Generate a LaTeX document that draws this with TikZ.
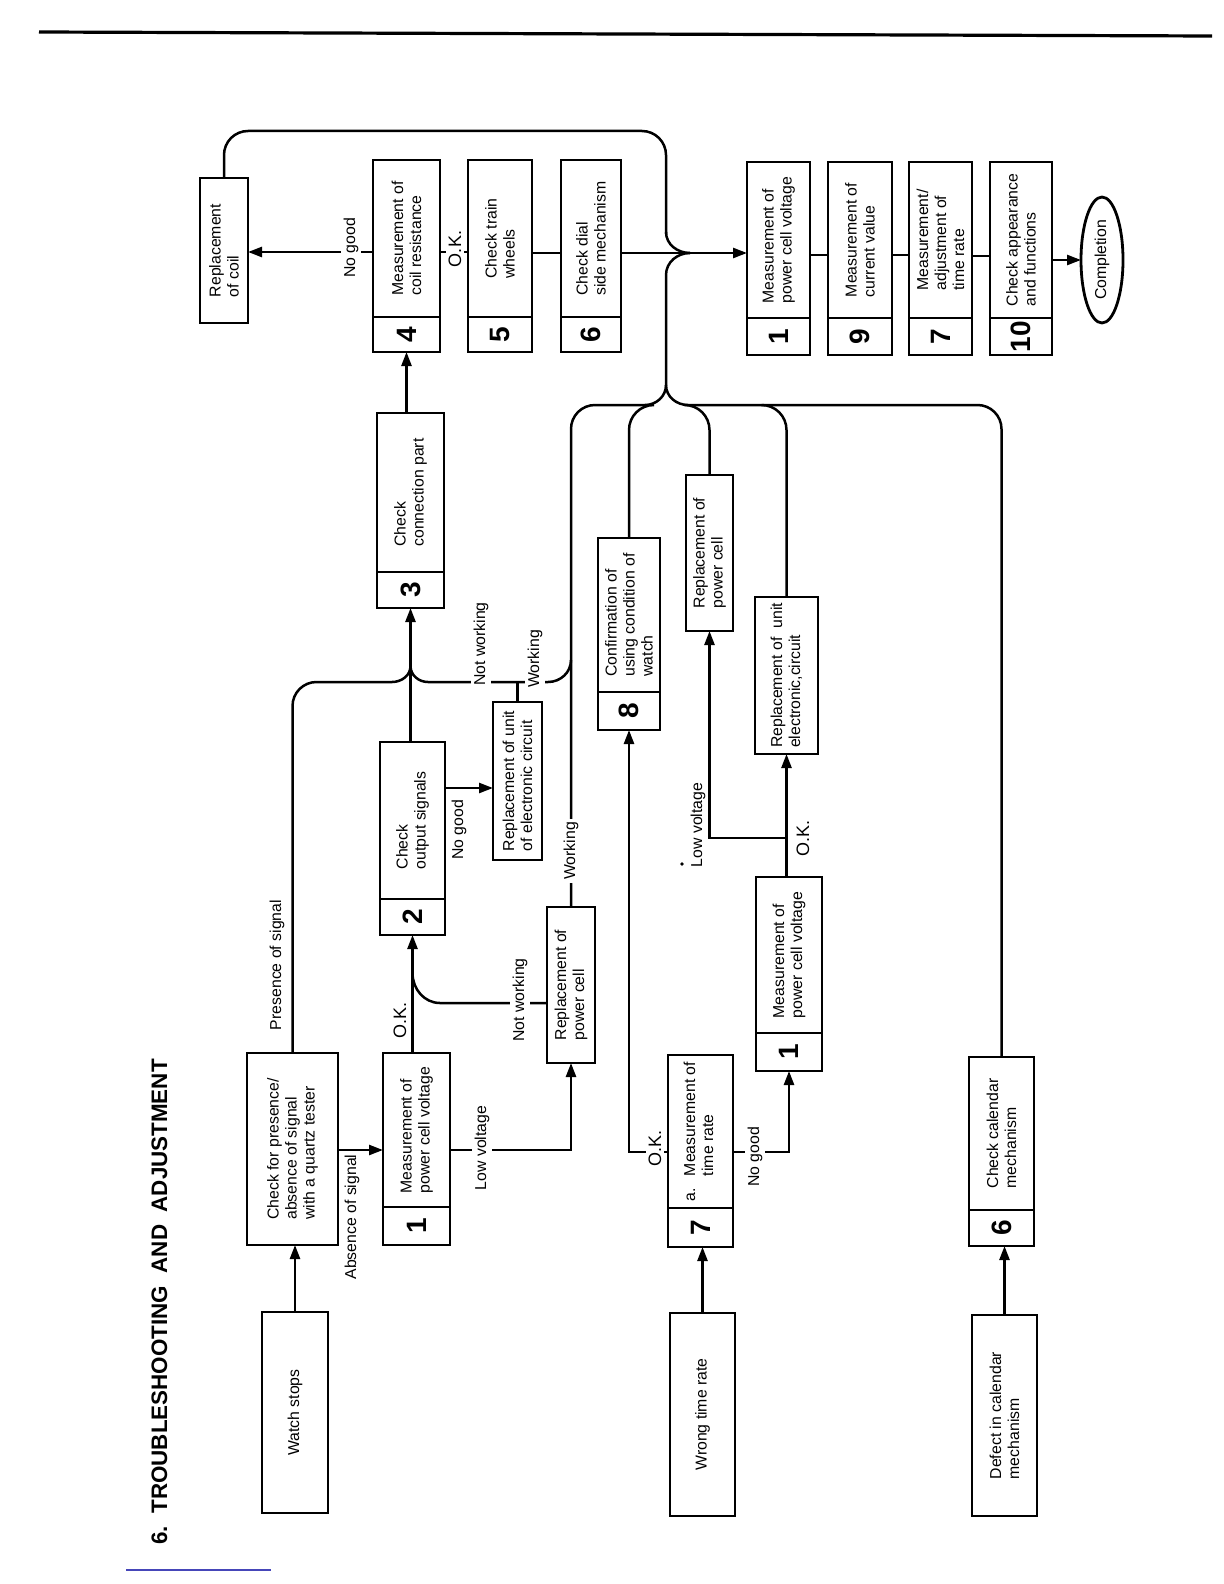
\documentclass[tikz,border=0pt]{standalone}
\usepackage{fontspec}
\setmainfont{Liberation Sans}
\usetikzlibrary{arrows.meta,calc,shapes.geometric}
\tikzset{
 bx/.style={draw, line width=1.4pt, inner sep=0pt, outer sep=0pt, rectangle},
 ln/.style={line width=1.25pt},
 arr/.style={ln, -{Triangle[length=7pt,width=5pt]}},
 txt/.style={rotate=90, align=left, font=\fontsize{7.9}{9}\selectfont, inner sep=0pt},
 numst/.style={rotate=90, font=\fontsize{14}{14}\selectfont\bfseries, inner sep=0pt},
 lab/.style={rotate=90, font=\fontsize{7.9}{9}\selectfont, inner sep=1.5pt},
 labw/.style={lab, fill=white},
 okst/.style={rotate=90, font=\fontsize{9}{10}\selectfont, inner sep=1.5pt},
 okw/.style={okst, fill=white},
}
\newcommand{\mkbox}[5]{\node[bx, minimum width={(#4-#2)*0.5}, minimum height={(#5-#3)*0.5}] (#1) at ({(#2+#4)/2},{(#3+#5)/2}) {};}
\newcommand{\plainbox}[6]{\mkbox{#1}{#2}{#3}{#4}{#5}\node[txt] (#1t) at (#1.center) {#6};}
\newcommand{\numbox}[8]{\mkbox{#1}{#2}{#3}{#4}{#5}%
 \draw[line width=1.4pt] (#2,#6) -- (#4,#6);%
 \node[numst] (#1n) at ({(#2+#4)/2},{(#6+#5)/2}) {#7};%
 \node[txt] (#1t) at ({(#2+#4)/2},{(#3+#6)/2}) {#8};}
\begin{document}
\begin{tikzpicture}[x=0.5pt,y=-0.5pt]
\useasboundingbox (0,0) rectangle (1224,1584);
% page rules
\draw[line width=1.6pt] (39,32) -- (1212,36);
\draw[line width=0.6pt, blue!45!gray] (126,1570) -- (271,1570);
% title
\node[rotate=90, anchor=base west, font=\fontsize{11.2}{12}\selectfont\bfseries, inner sep=0pt] (title) at (167,1545) {6.\ \ TROUBLESHOOTING\ \ AND\ \ ADJUSTMENT};

% boxes
\plainbox{coil}{200}{178}{248}{323}{Replacement\\of coil}
\numbox{bfour}{373}{160}{440}{352}{317}{4}{Measurement of\\coil resistance}
\numbox{bfive}{468}{160}{532}{352}{317}{5}{Check train\\wheels}
\numbox{bsix}{561}{160}{621}{352}{317}{6}{Check dial\\side mechanism}
\numbox{rone}{747}{162}{810}{355}{318}{1}{Measurement of\\power cell voltage}
\numbox{rnine}{828}{162}{892}{355}{318}{9}{Measurement of\\current value}
\numbox{rseven}{909}{162}{972}{355}{318}{7}{Measurement/\\adjustment of\\time rate}
\numbox{rten}{990}{162}{1052}{355}{318}{10}{Check appearance\\and functions}
\node[draw, ellipse, line width=1.4pt, minimum width=21pt, minimum height=63pt, inner sep=0pt, outer sep=0pt] (compl) at (1102,260) {};
\node[txt] (complt) at (compl.center) {Completion};
\numbox{bthree}{377}{413}{444}{608}{572}{3}{Check\\connection part}
\numbox{btwo}{380}{742}{445}{935}{899}{2}{Check\\output signals}
\plainbox{rul}{493}{702}{542}{860}{Replacement of unit\\of electronic circuit}
\plainbox{chk}{247}{1053}{338}{1245}{Check for presence/\\absence of signal\\with a quartz tester}
\numbox{bonea}{383}{1053}{450}{1245}{1207}{1}{Measurement of\\power cell voltage}
\plainbox{rcl}{547}{907}{595}{1063}{Replacement of\\power cell}
\numbox{beight}{598}{538}{660}{730}{692}{8}{Confirmation of\\using condition of\\watch}
\plainbox{rcu}{686}{475}{733}{631}{Replacement of\\power cell}
\plainbox{rur}{755}{597}{818}{754}{Replacement of\ \ unit\\electronic,circuit}
\numbox{boneb}{756}{877}{822}{1071}{1033}{1}{Measurement of\\power cell voltage}
\numbox{bsevena}{668}{1055}{733}{1247}{1208}{7}{a.\hspace{6pt}\begin{tabular}[t]{@{}l@{}}Measurement of\\time rate\end{tabular}}
\numbox{bcal}{969}{1057}{1034}{1246}{1210}{6}{Check calendar\\mechanism}
\plainbox{watch}{262}{1312}{328}{1513}{Watch stops}
\plainbox{wrong}{670}{1313}{735}{1516}{Wrong time rate}
\plainbox{defect}{972}{1315}{1037}{1516}{Defect in calendar\\mechanism}

% junction coordinates
\coordinate (mj) at (690,253);
\coordinate (bj) at (666,385);
\coordinate (jthree) at (bthree.south |- 0,666);
\coordinate (jone) at (rur.south |- 0,838);

% top row
\draw[arr] (bthree.north -| bfour.south) -- (bfour.south);
\draw[arr] (bfour.west |- 0,252) -- (coil.east |- 0,252);
\draw[ln] (bfour.east |- 0,252) -- (bfive.west |- 0,252);
\draw[ln] (bfive.east |- 0,253) -- (bsix.west |- 0,253);
\draw[arr] (bsix.east |- 0,253) -- (rone.west |- 0,253);
\draw[ln] (rone.east |- 0,255) -- (rnine.west |- 0,255);
\draw[ln] (rnine.east |- 0,255) -- (rseven.west |- 0,255);
\draw[ln] (rseven.east |- 0,256) -- (rten.west |- 0,256);
\draw[arr] (rten.east |- compl.west) -- (compl.west);
\draw[ln, rounded corners=12pt] (coil.north) |- (666,131) -- (666,234);
\draw[ln] (666,232) to[out=-90,in=180] (mj);
\draw[ln] (bj) -- (666,275) to[out=90,in=180] (mj);

% bus
\draw[ln, rounded corners=12pt] (rcl.north) |- (645,405);
\draw[ln] (645,405) to[out=0,in=-90] (bj);
\draw[ln, rounded corners=12pt] (bcal.north) |- (688,405);
\draw[ln] (688,405) to[out=180,in=-90] (bj);
\draw[ln] (beight.north) -- (beight.north |- 0,430) to[out=90,in=180] ++(25,-25);
\draw[ln] (rcu.north) -- (rcu.north |- 0,430) to[out=90,in=0] ++(-25,-25);
\draw[ln] (rur.north) -- (rur.north |- 0,430) to[out=90,in=0] ++(-25,-25);

% left column
\draw[arr] (watch.north) -- (watch.north |- chk.south);
\draw[arr] (chk.east |- 0,1150) -- (bonea.west |- 0,1150);
\draw[arr] (bonea.east |- 0,1150) -| (rcl.south);
\draw[arr] (bonea.north -| btwo.south) -- (btwo.south);
\draw[ln] (rcl.west |- 0,1003) -- (440,1003) to[out=180,in=-90] (btwo.south |- 0,973);
\draw[arr] (btwo.east |- 0,788) -- (rul.west |- 0,788);
\draw[arr] (btwo.north -| bthree.south) -- (bthree.south);
\draw[ln, rounded corners=12pt] (chk.north) |- (392,682);
\draw[ln] (392,682) to[out=0,in=-90] (jthree);
\draw[ln] (428,682) to[out=180,in=-90] (jthree);
\draw[ln] (428,682) -- (548,682) to[out=0,in=-90] (rcl.north |- 0,660);
\draw[ln] (rul.north) -- (rul.north |- 0,682);

% middle
\draw[arr] (wrong.north) -- (wrong.north |- bsevena.south);
\draw[arr] (defect.north) -- (defect.north |- bcal.south);
\draw[arr] (bsevena.west |- 0,1152) -| (beight.south);
\draw[arr] (bsevena.east |- 0,1152) -| (boneb.south);
\draw[arr] (boneb.north -| rur.south) -- (rur.south);
\draw[arr] (jone) -| (rcu.south);
\fill (682,864) circle (0.9pt);

% labels
\node[labw] (lone) at (351,248) {No good};
\node[okw] (ltwo) at (455,249) {O.K.};
\node[lab] (lthree) at (277,965) {Presence of signal};
\node[lab] (lfour) at (352,1217) {Absence of signal};
\node[labw] (lfive) at (482,1148) {Low voltage};
\node[okst] (lsix) at (400,1020) {O.K.};
\node[labw] (lseven) at (520,1000) {Not working};
\node[lab] (leight) at (459,830) {No good};
\node[labw] (lnine) at (rcl.north |- 0,851) {Working};
\node[labw] (lten) at (481,644) {Not working};
\node[labw] (leleven) at (535,659) {Working};
\node[okw] (ltwelve) at (655,1148) {O.K.};
\node[labw] (lthirteen) at (755,1157) {No good};
\node[okst] (lfourteen) at (803,838) {O.K.};
\node[lab] (lfifteen) at (698,825) {Low voltage};
\end{tikzpicture}
\end{document}
